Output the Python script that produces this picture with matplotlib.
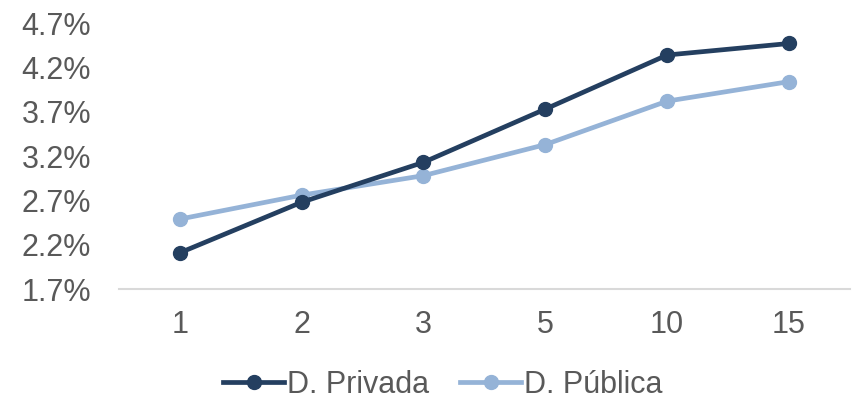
import matplotlib
matplotlib.use("Agg")
import matplotlib.pyplot as plt
from matplotlib.ticker import FuncFormatter

plt.rcParams['font.family'] = ['Liberation Sans', 'DejaVu Sans']

years = ["1", "2", "3", "5", "10", "15"]
privada = [2.11, 2.68, 3.13, 3.73, 4.34, 4.47]
publica = [2.49, 2.76, 2.98, 3.33, 3.82, 4.04]

dark = "#243F60"
light = "#95B3D7"
text_col = "#595959"

fig = plt.figure(figsize=(8.55, 4.05), dpi=100)
ax = fig.add_axes([0.139, 0.286, 0.855, 0.657])

xs = range(len(years))
ax.plot(xs, privada, color=dark, lw=3.4, marker='o', ms=10, label="D. Privada", zorder=3)
ax.plot(xs, publica, color=light, lw=3.4, marker='o', ms=10, label="D. Pública", zorder=2)

ax.set_xlim(-0.5, len(years) - 0.5)
ax.set_ylim(1.7, 4.7)
ax.set_yticks([1.7, 2.2, 2.7, 3.2, 3.7, 4.2, 4.7])
ax.yaxis.set_major_formatter(FuncFormatter(lambda v, p: f"{v:.1f}%"))
ax.set_xticks(list(xs))
ax.set_xticklabels(years)

for s in ['top', 'right', 'left']:
    ax.spines[s].set_visible(False)
ax.spines['bottom'].set_color("#D9D9D9")
ax.spines['bottom'].set_linewidth(1.5)
ax.tick_params(axis='both', length=0, labelsize=22, colors=text_col)
ax.tick_params(axis='x', pad=15)
ax.tick_params(axis='y', pad=20)

fig.legend(loc='center', bbox_to_anchor=(0.518, 0.05), ncol=2, frameon=False,
           fontsize=22, labelcolor=text_col, handlelength=2.0, handletextpad=0.1,
           columnspacing=1.0)

fig.savefig("out.png", dpi=100)
